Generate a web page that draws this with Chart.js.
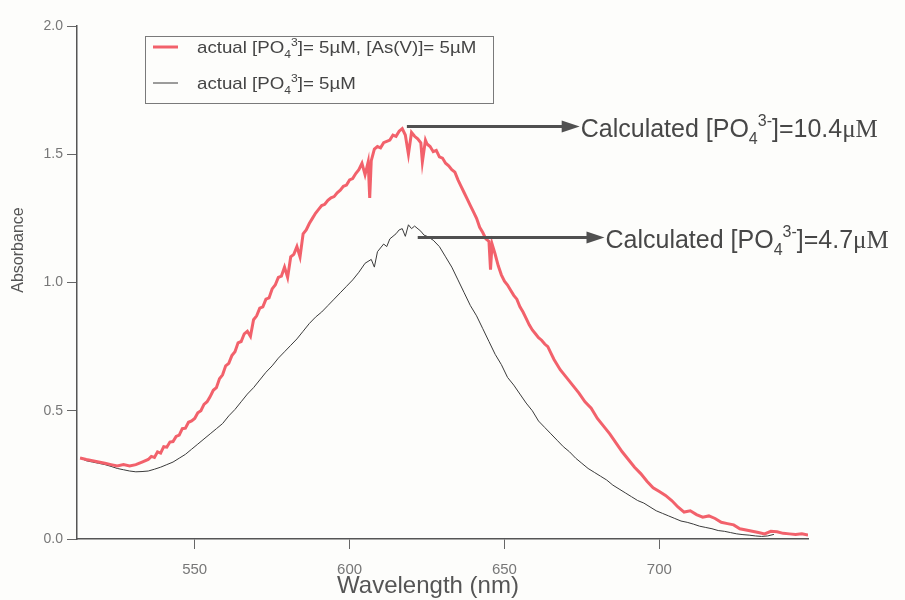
<!DOCTYPE html>
<html>
<head>
<meta charset="utf-8">
<script src="https://cdn.jsdelivr.net/npm/chart.js@4.4.0/dist/chart.umd.min.js"></script>
<style>
  html, body { margin: 0; padding: 0; background: #fdfdfb; }
  #wrap { width: 905px; height: 600px; position: relative; }
</style>
</head>
<body>
<div id="wrap"><canvas id="spectrum"></canvas></div>
<script>
// PO4 + As(V) spectrum (red)
const redWl = [513, 515, 517, 519, 521, 523, 525, 527, 529, 531, 533, 535, 536, 537, 538, 539, 540, 541, 542, 543,
  544, 545, 546, 547, 548, 549, 550, 551, 552, 553, 554, 555, 556, 557, 558, 559, 560, 561, 562, 563, 564, 565, 566,
  567, 568, 569, 570, 571, 572, 573, 574, 575, 576, 577, 578, 579, 580, 581, 582, 583, 584, 585, 586, 587, 588, 589,
  590, 591, 592, 593, 594, 595, 596, 597, 598, 599, 600, 601, 602, 603, 604, 605, 606, 606.5, 607, 608, 609, 610,
  611, 612, 613, 614, 615, 616, 617, 618, 619, 620, 621, 622, 623, 623.5, 624.5, 625, 626, 627, 628, 629, 630, 631,
  632, 633, 634, 635, 636, 637, 638, 639, 640, 641, 642, 643, 644, 645, 645.5, 646, 647, 648, 649, 650, 651, 652,
  653, 654, 655, 656, 657, 658, 659, 660, 661, 662, 663, 664, 665, 666, 668, 670, 672, 674, 676, 678, 680, 682, 684,
  686, 688, 690, 692, 694, 696, 698, 700, 702, 704, 706, 708, 710, 712, 714, 716, 718, 720, 722, 724, 726, 728, 730,
  732, 734, 736, 738, 740, 742, 744, 746, 748];
const redAbs = [0.316, 0.31, 0.305, 0.30, 0.295, 0.29, 0.285, 0.29, 0.285, 0.29, 0.30, 0.31, 0.322, 0.318, 0.34,
  0.335, 0.36, 0.358, 0.378, 0.38, 0.40, 0.405, 0.43, 0.432, 0.455, 0.46, 0.47, 0.492, 0.50, 0.525, 0.535, 0.555,
  0.58, 0.59, 0.625, 0.64, 0.675, 0.685, 0.715, 0.73, 0.765, 0.77, 0.80, 0.81, 0.79, 0.855, 0.87, 0.90, 0.905, 0.935,
  0.94, 0.975, 0.99, 1.02, 1.025, 1.06, 1.02, 1.10, 1.11, 1.14, 1.10, 1.19, 1.205, 1.23, 1.25, 1.27, 1.285, 1.30,
  1.305, 1.32, 1.33, 1.335, 1.35, 1.36, 1.375, 1.38, 1.40, 1.405, 1.425, 1.44, 1.465, 1.42, 1.47, 1.33, 1.475, 1.52,
  1.53, 1.525, 1.545, 1.55, 1.555, 1.575, 1.57, 1.59, 1.60, 1.575, 1.50, 1.585, 1.57, 1.56, 1.545, 1.47, 1.555, 1.54,
  1.53, 1.51, 1.515, 1.49, 1.485, 1.465, 1.455, 1.44, 1.43, 1.40, 1.375, 1.35, 1.325, 1.30, 1.275, 1.25, 1.215, 1.195,
  1.17, 1.16, 1.05, 1.15, 1.11, 1.065, 1.03, 1.005, 0.99, 0.97, 0.95, 0.935, 0.905, 0.885, 0.86, 0.835, 0.815, 0.80,
  0.785, 0.775, 0.76, 0.75, 0.725, 0.70, 0.66, 0.63, 0.60, 0.57, 0.535, 0.51, 0.47, 0.44, 0.41, 0.375, 0.34, 0.31,
  0.28, 0.255, 0.225, 0.20, 0.185, 0.17, 0.15, 0.125, 0.105, 0.11, 0.095, 0.085, 0.09, 0.08, 0.065, 0.06, 0.055,
  0.04, 0.035, 0.03, 0.025, 0.02, 0.03, 0.028, 0.022, 0.02, 0.018, 0.02, 0.015];

// PO4 only spectrum (black)
const blackWl = [513, 515, 517, 519, 521, 523, 525, 527, 529, 531, 533, 535, 537, 539, 541, 543, 545, 547, 549, 551,
  553, 555, 557, 559, 561, 563, 565, 567, 569, 571, 573, 575, 577, 579, 581, 583, 585, 587, 589, 591, 593, 595, 597,
  599, 601, 603, 605, 607, 608, 609, 611, 612, 613, 615, 616, 617, 618, 619, 620, 621, 623, 624, 625, 627, 629, 631,
  633, 635, 637, 639, 641, 643, 645, 647, 649, 651, 653, 655, 657, 659, 661, 663, 665, 667, 669, 671, 673, 675, 677,
  679, 681, 683, 685, 687, 689, 691, 693, 695, 697, 699, 701, 703, 705, 707, 709, 711, 713, 715, 717, 719, 721, 723,
  725, 727, 729, 731, 733, 735, 737];
const blackAbs = [0.316, 0.305, 0.30, 0.295, 0.29, 0.283, 0.275, 0.27, 0.265, 0.262, 0.263, 0.265, 0.272, 0.28, 0.29,
  0.30, 0.315, 0.33, 0.35, 0.37, 0.39, 0.41, 0.43, 0.45, 0.48, 0.505, 0.535, 0.565, 0.59, 0.62, 0.65, 0.675, 0.705,
  0.73, 0.755, 0.78, 0.81, 0.84, 0.865, 0.885, 0.91, 0.935, 0.96, 0.985, 1.01, 1.04, 1.075, 1.09, 1.06, 1.12, 1.15,
  1.14, 1.17, 1.19, 1.205, 1.21, 1.18, 1.225, 1.21, 1.22, 1.20, 1.185, 1.18, 1.165, 1.14, 1.10, 1.06, 1.01, 0.96,
  0.91, 0.87, 0.82, 0.77, 0.72, 0.68, 0.63, 0.60, 0.565, 0.53, 0.50, 0.46, 0.435, 0.41, 0.385, 0.36, 0.34, 0.315,
  0.295, 0.275, 0.26, 0.245, 0.23, 0.21, 0.195, 0.18, 0.165, 0.15, 0.14, 0.125, 0.11, 0.10, 0.09, 0.08, 0.07, 0.065,
  0.058, 0.05, 0.045, 0.04, 0.033, 0.03, 0.025, 0.02, 0.017, 0.015, 0.012, 0.01, 0.012, 0.018];

const xTicks = [550, 600, 650, 700];
const yTicks = [0, 0.5, 1.0, 1.5, 2.0];

// arrows to the peak of each curve, with the calculated concentration
const arrowFromWl = [618.5, 622];
const arrowToWl = [674.3, 682.3];
const arrowAbs = [1.61, 1.177];
const calcConc = ['10.4', '4.7'];

const RED = '#f2616b';
const BLACK = '#3a3a3a';
const SANS = '"Liberation Sans", Arial, sans-serif';
const SERIF = '"Liberation Serif", "Times New Roman", serif';

const toPoints = (xs, ys) => xs.map((x, i) => ({ x: x, y: ys[i] }));

// text with sub/superscript pieces, stretched horizontally by sx
function drawRich(ctx, x, y, parts, size, family, sx) {
  ctx.save();
  ctx.translate(x, y);
  ctx.scale(sx || 1, 1);
  ctx.textBaseline = 'alphabetic';
  ctx.textAlign = 'left';
  let cx = 0;
  parts.forEach(p => {
    let s = size, dy = 0;
    if (p.sub) { s = Math.round(size * 0.62); dy = size * 0.28; }
    if (p.sup) { s = Math.round(size * 0.62); dy = -size * 0.42; }
    ctx.font = s + 'px ' + (p.family || family);
    ctx.fillText(p.t, cx, dy);
    cx += ctx.measureText(p.t).width;
  });
  ctx.restore();
}

const overlay = {
  id: 'overlay',
  afterDraw(chart) {
    const ctx = chart.ctx;
    const xs = chart.scales.x, ys = chart.scales.y;
    ctx.save();

    // axis titles
    ctx.fillStyle = '#555';
    ctx.textAlign = 'center';
    ctx.textBaseline = 'middle';
    ctx.font = '24px ' + SANS;
    ctx.fillText('Wavelength (nm)', 428, 586);
    ctx.save();
    ctx.translate(19, 250);
    ctx.rotate(-Math.PI / 2);
    ctx.font = '16px ' + SANS;
    ctx.fillText('Absorbance', 0, 0);
    ctx.restore();

    // legend box
    ctx.strokeStyle = '#7a7a7a';
    ctx.lineWidth = 1;
    ctx.strokeRect(145.5, 36.5, 348, 67);
    const rows = [
      { color: RED, width: 3, y: 47, parts: [{ t: 'actual [PO' }, { t: '4', sub: true }, { t: '3', sup: true }, { t: ']= 5\u00b5M, [As(V)]= 5\u00b5M' }] },
      { color: BLACK, width: 1, y: 83, parts: [{ t: 'actual [PO' }, { t: '4', sub: true }, { t: '3', sup: true }, { t: ']= 5\u00b5M' }] }
    ];
    rows.forEach(r => {
      ctx.strokeStyle = r.color;
      ctx.lineWidth = r.width;
      ctx.beginPath();
      ctx.moveTo(153, r.y);
      ctx.lineTo(178, r.y);
      ctx.stroke();
      ctx.fillStyle = '#454545';
      drawRich(ctx, 197, r.y + 6, r.parts, 17, SANS, 1.1);
    });

    // arrows and calculated values
    arrowFromWl.forEach((wl, i) => {
      const x0 = xs.getPixelForValue(wl);
      const x1 = xs.getPixelForValue(arrowToWl[i]);
      const y = Math.round(ys.getPixelForValue(arrowAbs[i])) + 0.5;
      ctx.strokeStyle = '#505050';
      ctx.fillStyle = '#505050';
      ctx.lineWidth = 3;
      ctx.beginPath();
      ctx.moveTo(x0, y);
      ctx.lineTo(x1 - 14, y);
      ctx.stroke();
      ctx.beginPath();
      ctx.moveTo(x1, y);
      ctx.lineTo(x1 - 18, y - 6);
      ctx.lineTo(x1 - 18, y + 6);
      ctx.closePath();
      ctx.fill();
      ctx.fillStyle = '#474747';
      drawRich(ctx, x1 + 1, y + 10, [
        { t: 'Calculated [PO' }, { t: '4', sub: true }, { t: '3-', sup: true },
        { t: ']=' + calcConc[i] }, { t: '\u03bcM', family: SERIF }
      ], 25, SANS, 1);
    });
    ctx.restore();
  }
};

new Chart(document.getElementById('spectrum'), {
  type: 'line',
  data: {
    datasets: [
      {
        label: 'actual [PO4 3-]= 5uM, [As(V)]= 5uM',
        data: toPoints(redWl, redAbs),
        borderColor: RED,
        borderWidth: 3,
        pointRadius: 0,
        tension: 0
      },
      {
        label: 'actual [PO4 3-]= 5uM',
        data: toPoints(blackWl, blackAbs),
        borderColor: BLACK,
        borderWidth: 1,
        pointRadius: 0,
        tension: 0
      }
    ]
  },
  options: {
    responsive: true,
    maintainAspectRatio: false,
    animation: false,
    layout: { padding: { top: 26, right: 97, left: 0, bottom: 0 } },
    scales: {
      x: {
        type: 'linear',
        min: 512,
        max: 748,
        afterBuildTicks: s => { s.ticks = xTicks.map(v => ({ value: v })); },
        afterFit: s => { s.height = 61; },
        grid: { display: true, drawOnChartArea: false, tickLength: 10, color: '#666' },
        border: { display: true, color: '#555', width: 1.5 },
        ticks: { color: '#777', font: { family: SANS, size: 15 }, padding: 12, maxRotation: 0 }
      },
      y: {
        min: 0,
        max: 2,
        afterBuildTicks: s => { s.ticks = yTicks.map(v => ({ value: v })); },
        afterFit: s => { s.width = 77; },
        grid: { display: true, drawOnChartArea: false, tickLength: 10, color: '#666' },
        border: { display: true, color: '#555', width: 1.5 },
        ticks: { color: '#777', font: { family: SANS, size: 14 }, padding: 4, callback: v => v.toFixed(1) }
      }
    },
    plugins: {
      legend: { display: false },
      tooltip: { enabled: false }
    }
  },
  plugins: [overlay]
});
</script>
</body>
</html>
